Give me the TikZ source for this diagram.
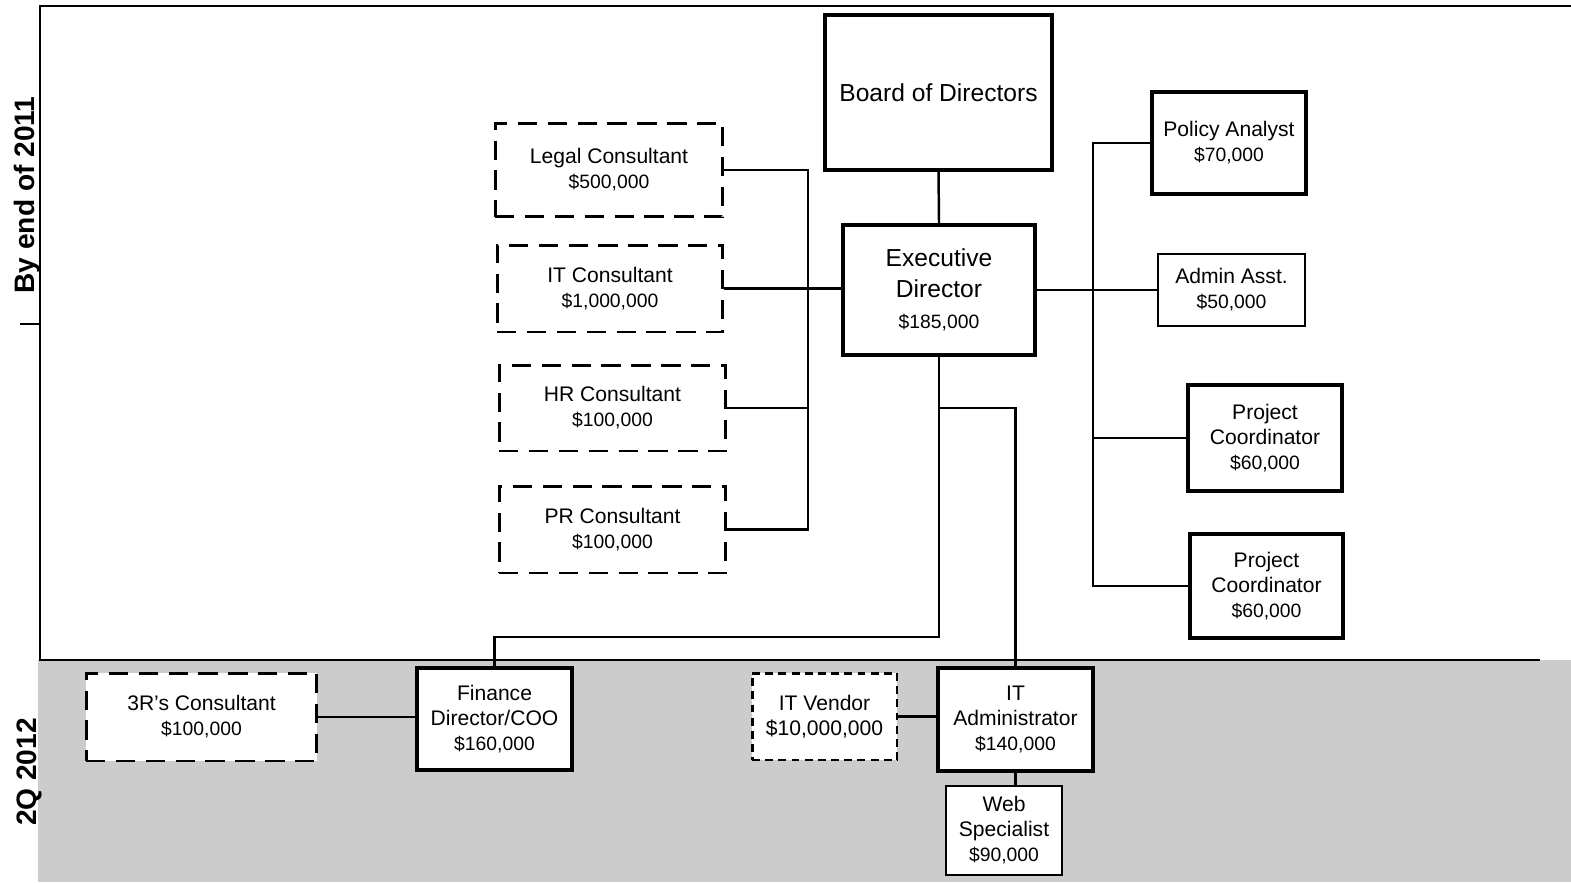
\documentclass[tikz,border=0pt]{standalone}
\usepackage{fontspec}
\setmainfont{Liberation Sans}
\newcommand{\val}[1]{{\fontsize{11}{14}\selectfont #1}}
\tikzset{
  sz/.style 2 args={minimum width=#1, minimum height=#2},
  solidbox/.style={draw, line width=2.2pt, fill=white, align=center, inner sep=2pt, font=\fontsize{12}{14.2}\selectfont},
  thinbox/.style={solidbox, line width=1pt},
  dashbox/.style={solidbox, line width=1.7pt, dash pattern=on 11pt off 6pt},
  dotbox/.style={solidbox, line width=1.7pt, dash pattern=on 4.5pt off 3pt},
  link/.style={line width=1.4pt},
  frame/.style={line width=1.5pt}
}
\begin{document}
\begin{tikzpicture}[x=0.02cm, y=-0.02cm]
  \useasboundingbox (0,0) rectangle (1571,882);
  \fill[black!20] (38,660) rectangle (1571,882);
  \draw[frame] (1571,6) -- (40,6) -- (40,660) -- (1540,660);
  \draw[frame] (20,324) -- (40,324);
  \node[rotate=90, font=\bfseries\fontsize{16}{18}\selectfont] (y2011) at (27,195) {By end of 2011};
  \node[rotate=90, font=\bfseries\fontsize{16}{18}\selectfont] (y2012) at (29,772) {2Q 2012};

  \node[solidbox, sz={4.54cm}{3.10cm}, font=\fontsize{14}{16}\selectfont] (board) at (938.5,92.5) {Board of Directors};
  \node[solidbox, sz={3.84cm}{2.60cm}, font=\fontsize{14}{17.6}\selectfont] (exec) at (939,290) {Executive\\Director\\\val{\$185,000}};

  \node[dashbox, sz={4.56cm}{1.88cm}] (legal) at (609,170) {Legal Consultant\\\val{\$500,000}};
  \node[dashbox, sz={4.52cm}{1.74cm}] (itcons) at (610,288.5) {IT Consultant\\\val{\$1,000,000}};
  \node[dashbox, sz={4.54cm}{1.72cm}] (hr) at (612.5,408) {HR Consultant\\\val{\$100,000}};
  \node[dashbox, sz={4.54cm}{1.74cm}] (pr) at (612.5,529.5) {PR Consultant\\\val{\$100,000}};

  \node[solidbox, sz={3.08cm}{2.04cm}] (policy) at (1229,143) {Policy Analyst\\\val{\$70,000}};
  \node[thinbox, sz={2.94cm}{1.44cm}] (admin) at (1231.5,290) {Admin Asst.\\\val{\$50,000}};
  \node[solidbox, sz={3.08cm}{2.12cm}] (pc1) at (1265,438) {Project\\Coordinator\\\val{\$60,000}};
  \node[solidbox, sz={3.06cm}{2.08cm}] (pc2) at (1266.5,586) {Project\\Coordinator\\\val{\$60,000}};

  \node[dashbox, sz={4.62cm}{1.76cm}] (r3) at (201.5,717) {3R's Consultant\\\val{\$100,000}};
  \node[solidbox, sz={3.10cm}{2.04cm}] (finance) at (494.5,719) {Finance\\Director/COO\\\val{\$160,000}};
  \node[dotbox, sz={2.90cm}{1.74cm}] (vendor) at (824.5,716.5) {IT Vendor\\\$10,000,000};
  \node[solidbox, sz={3.10cm}{2.06cm}] (itadmin) at (1015.5,719.5) {IT\\Administrator\\\val{\$140,000}};
  \node[thinbox, line width=1.3pt, sz={2.32cm}{1.78cm}] (web) at (1004,830.5) {Web\\Specialist\\\val{\$90,000}};

  \coordinate (lbus) at (808,0);
  \coordinate (rbus) at (1093,0);
  \coordinate (elbow) at (940,637);
  \coordinate (branch) at (940,408);

  \draw[link] (board.south) -- (exec.north);
  \draw[link] (legal.east) -| (pr.east -| lbus) -- (pr.east);
  \draw[link] (hr.east) -- (hr.east -| lbus);
  \draw[link] (itcons.east) -- (itcons.east -| exec.west);
  \draw[link] (exec.east) -- (exec.east -| admin.west);
  \draw[link] (policy.west) -| (pc2.west -| rbus) -- (pc2.west);
  \draw[link] (pc1.west) -- (pc1.west -| rbus);
  \draw[link] (exec.south) -- (exec.south |- elbow) -| (finance.north);
  \draw[link] (exec.south |- branch) -| (itadmin.north);
  \draw[link] (r3.east) -- (r3.east -| finance.west);
  \draw[link] (vendor.east) -- (vendor.east -| itadmin.west);
  \draw[link] (itadmin.south) -- (itadmin.south |- web.north);
\end{tikzpicture}
\end{document}
